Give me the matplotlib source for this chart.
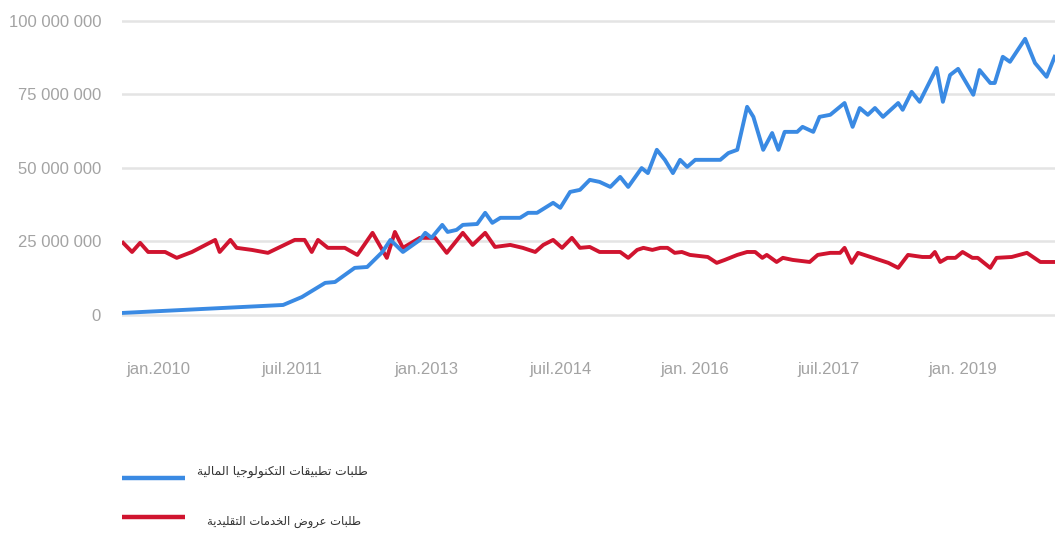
import matplotlib
matplotlib.use("Agg")
import matplotlib.pyplot as plt
from matplotlib.lines import Line2D
from matplotlib.ticker import FuncFormatter

# ---- data (values in millions of requests, x in decimal years) ----
fintech_years = [2009.61, 2011.40, 2011.61, 2011.87, 2011.98, 2012.20, 2012.34, 2012.51,
                 2012.60, 2012.74, 2012.93, 2012.99, 2013.06, 2013.18, 2013.24, 2013.34,
                 2013.41, 2013.57, 2013.66, 2013.74, 2013.83, 2014.05, 2014.14, 2014.24,
                 2014.33, 2014.42, 2014.50, 2014.61, 2014.72, 2014.83, 2014.94, 2015.06,
                 2015.17, 2015.26, 2015.41, 2015.48, 2015.58, 2015.67, 2015.76, 2015.84,
                 2015.92, 2016.01, 2016.29, 2016.38, 2016.48, 2016.59, 2016.66, 2016.77,
                 2016.87, 2016.94, 2017.01, 2017.15, 2017.21, 2017.33, 2017.40, 2017.52,
                 2017.68, 2017.77, 2017.85, 2017.94, 2018.02, 2018.11, 2018.28, 2018.33,
                 2018.43, 2018.52, 2018.71, 2018.78, 2018.86, 2018.95, 2019.12, 2019.19,
                 2019.31, 2019.36, 2019.45, 2019.53, 2019.70, 2019.81, 2019.94, 2020.03]
fintech_values = [0.7, 3.4, 6.1, 10.9, 11.2, 16.0, 16.3, 21.4,
                  25.5, 21.4, 25.5, 27.9, 26.2, 30.6, 28.2, 28.9,
                  30.6, 30.9, 34.7, 31.3, 33.0, 33.0, 34.7, 34.7,
                  36.4, 38.1, 36.4, 41.8, 42.5, 45.9, 45.2, 43.5,
                  46.9, 43.5, 49.9, 48.2, 56.1, 52.7, 48.2, 52.7,
                  50.3, 52.7, 52.7, 55.0, 56.1, 70.7, 67.3, 56.1,
                  61.8, 56.1, 62.2, 62.2, 63.9, 62.2, 67.3, 68.0,
                  72.0, 63.9, 70.3, 68.0, 70.3, 67.3, 72.0, 69.7,
                  75.8, 72.4, 83.9, 72.4, 81.5, 83.6, 74.8, 83.2,
                  78.8, 78.8, 87.7, 86.0, 93.8, 85.6, 80.9, 87.7]

traditional_years = [2009.61, 2009.71, 2009.80, 2009.89, 2010.08, 2010.21, 2010.38, 2010.64,
                     2010.69, 2010.81, 2010.88, 2011.05, 2011.23, 2011.53, 2011.64, 2011.72,
                     2011.79, 2011.90, 2012.09, 2012.23, 2012.40, 2012.56, 2012.65, 2012.74,
                     2012.93, 2013.10, 2013.23, 2013.41, 2013.52, 2013.66, 2013.77, 2013.94,
                     2014.08, 2014.22, 2014.31, 2014.42, 2014.52, 2014.63, 2014.72, 2014.83,
                     2014.94, 2015.17, 2015.26, 2015.36, 2015.43, 2015.53, 2015.62, 2015.70,
                     2015.78, 2015.86, 2015.95, 2016.15, 2016.25, 2016.34, 2016.48, 2016.59,
                     2016.68, 2016.76, 2016.81, 2016.92, 2016.99, 2017.10, 2017.29, 2017.38,
                     2017.52, 2017.63, 2017.68, 2017.76, 2017.83, 2018.00, 2018.17, 2018.28,
                     2018.39, 2018.55, 2018.64, 2018.69, 2018.75, 2018.83, 2018.92, 2019.00,
                     2019.11, 2019.17, 2019.31, 2019.38, 2019.55, 2019.72, 2019.87, 2020.03]
traditional_values = [24.5, 21.4, 24.5, 21.4, 21.4, 19.4, 21.4, 25.5,
                      21.4, 25.5, 22.8, 22.1, 21.1, 25.5, 25.5, 21.4,
                      25.5, 22.8, 22.8, 20.4, 27.9, 19.4, 28.2, 22.8,
                      26.2, 26.2, 21.1, 27.9, 23.8, 27.9, 23.1, 23.8,
                      22.8, 21.4, 23.8, 25.5, 22.8, 26.2, 22.8, 23.1,
                      21.4, 21.4, 19.4, 22.1, 22.8, 22.1, 22.8, 22.8,
                      21.1, 21.4, 20.4, 19.7, 17.7, 18.7, 20.4, 21.4,
                      21.4, 19.4, 20.4, 18.0, 19.4, 18.7, 18.0, 20.4,
                      21.1, 21.1, 22.8, 17.7, 21.1, 19.4, 17.7, 16.0,
                      20.4, 19.7, 19.7, 21.4, 18.0, 19.4, 19.4, 21.4,
                      19.4, 19.4, 16.0, 19.4, 19.7, 21.1, 18.0, 18.0]

y_ticks = [0, 25, 50, 75, 100]
x_ticks = [2010.0, 2011.5, 2013.0, 2014.5, 2016.0, 2017.5, 2019.0]
x_tick_labels = ["jan.2010", "juil.2011", "jan.2013", "juil.2014",
                 "jan. 2016", "juil.2017", "jan. 2019"]

fintech_label = "طلبات تطبيقات التكنولوجيا المالية"
traditional_label = "طلبات عروض الخدمات التقليدية"

BLUE = "#3a8ae3"
RED = "#d0142f"
GREY_TEXT = "#a3a3a3"
GRID = "#e4e4e4"

# ---- minimal Arabic shaping (contextual forms + visual order) ----
_FORMS = {  # isolated, final, initial, medial
    "ا": ("\uFE8D", "\uFE8E", None, None),
    "ب": ("\uFE8F", "\uFE90", "\uFE91", "\uFE92"),
    "ة": ("\uFE93", "\uFE94", None, None),
    "ت": ("\uFE95", "\uFE96", "\uFE97", "\uFE98"),
    "ج": ("\uFE9D", "\uFE9E", "\uFE9F", "\uFEA0"),
    "خ": ("\uFEA5", "\uFEA6", "\uFEA7", "\uFEA8"),
    "د": ("\uFEA9", "\uFEAA", None, None),
    "ر": ("\uFEAD", "\uFEAE", None, None),
    "ض": ("\uFEBD", "\uFEBE", "\uFEBF", "\uFEC0"),
    "ط": ("\uFEC1", "\uFEC2", "\uFEC3", "\uFEC4"),
    "ع": ("\uFEC9", "\uFECA", "\uFECB", "\uFECC"),
    "ق": ("\uFED5", "\uFED6", "\uFED7", "\uFED8"),
    "ك": ("\uFED9", "\uFEDA", "\uFEDB", "\uFEDC"),
    "ل": ("\uFEDD", "\uFEDE", "\uFEDF", "\uFEE0"),
    "م": ("\uFEE1", "\uFEE2", "\uFEE3", "\uFEE4"),
    "ن": ("\uFEE5", "\uFEE6", "\uFEE7", "\uFEE8"),
    "و": ("\uFEED", "\uFEEE", None, None),
    "ي": ("\uFEF1", "\uFEF2", "\uFEF3", "\uFEF4"),
}


def _joins_forward(ch):
    return ch in _FORMS and _FORMS[ch][2] is not None


def shape_arabic(text):
    out = []
    for i, ch in enumerate(text):
        if ch not in _FORMS:
            out.append(ch)
            continue
        prev = text[i - 1] if i > 0 else ""
        nxt = text[i + 1] if i + 1 < len(text) else ""
        link_prev = _joins_forward(prev)
        link_next = _joins_forward(ch) and nxt in _FORMS
        iso, fin, ini, med = _FORMS[ch]
        if link_prev and link_next:
            out.append(med)
        elif link_prev:
            out.append(fin)
        elif link_next:
            out.append(ini)
        else:
            out.append(iso)
    return "".join(reversed(out))


# ---- figure ----
fig = plt.figure(figsize=(10.55, 5.37), dpi=100)
ax = fig.add_axes([0.1156, 0.3855, 0.8844, 0.5959])

ax.plot(traditional_years, traditional_values, color=RED, lw=2.8,
        solid_joinstyle="round", zorder=3)
ax.plot(fintech_years, fintech_values, color=BLUE, lw=2.8,
        solid_joinstyle="round", zorder=3)

ax.set_xlim(2009.597, 2020.034)
ax.set_ylim(-5.1, 103.6)

ax.set_yticks(y_ticks)
ax.yaxis.set_major_formatter(
    FuncFormatter(lambda v, _: f"{int(round(v * 1e6)):,}".replace(",", " ")))
ax.set_xticks(x_ticks)
ax.set_xticklabels(x_tick_labels)

for lbl in ax.get_xticklabels() + ax.get_yticklabels():
    lbl.set_family("Liberation Sans")
    lbl.set_fontsize(12)
    lbl.set_color(GREY_TEXT)

ax.tick_params(axis="both", length=0)
ax.tick_params(axis="y", pad=15)
ax.tick_params(axis="x", pad=23)
ax.grid(axis="y", color=GRID, lw=1.8, zorder=0)
ax.grid(axis="x", visible=False)
for sp in ax.spines.values():
    sp.set_visible(False)

# ---- legend drawn below the plot ----
W, H = 1055.0, 537.0
entries = [(BLUE, fintech_label, 478, 472, 197, 8.8),
           (RED, traditional_label, 517, 521, 207, 8.3)]
for color, label, line_y, text_y, text_x, size in entries:
    fig.add_artist(Line2D([122 / W, 185 / W], [1 - line_y / H] * 2,
                          transform=fig.transFigure, color=color, lw=3.2,
                          solid_capstyle="butt"))
    fig.text(text_x / W, 1 - text_y / H, shape_arabic(label),
             fontsize=size, color="#333333", family="DejaVu Sans",
             ha="left", va="center")

fig.savefig("out.png", dpi=100, facecolor="white")
